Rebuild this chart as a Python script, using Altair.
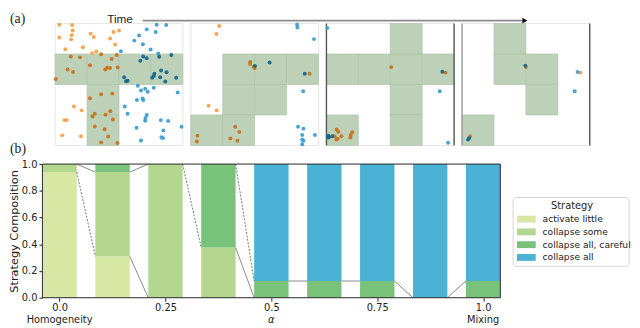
import altair as alt
import pandas as pd

# ---------------- (a) agents on a 4x4 resource grid, four time snapshots ----------------
# grid coordinates: x 0..4 (left->right), y 0..4 (top->bottom)
green_cells = [
    [(0, 1), (1, 1), (2, 1), (3, 1), (1, 2), (1, 3)],
    [(0, 3), (1, 1), (1, 2), (1, 3), (2, 1), (2, 2), (3, 1)],
    [(0, 1), (1, 1), (2, 1), (3, 1), (2, 0), (2, 2), (2, 3), (0, 3)],
    [(1, 0), (1, 1), (2, 1), (2, 2), (0, 3)],
]

orange_x = [
    [0.13, 0.53, 0.55, 0.52, 0.13, 0.50, 1.11, 1.21, 1.83, 2.00, 1.72, 1.88, 0.87, 0.32, 1.16, 1.29, 1.44, 1.93,
     0.49, 0.78, 0.39, 0.56, 0.02, 1.09, 1.77, 1.63, 1.57, 1.72, 1.96,
     1.09, 1.44, 1.79, 1.24, 1.17, 1.58, 1.73, 1.81, 1.24, 1.55, 1.66, 1.44, 1.95,
     0.59, 0.83, 0.29, 0.36, 0.22, 0.81],
    [0.89, 0.80, 0.56, 0.81, 1.86, 1.86, 1.97, 2.00, 3.72, 1.39, 1.52, 1.24, 1.46, 0.21, 0.19],
    [2.03, 3.73, 0.32, 0.37, 0.25, 0.47, 0.35, 0.31, 0.75, 0.76, 0.81],
    [2.00, 3.71, 0.25],
]
orange_y = [
    [0.04, 0.05, 0.23, 0.38, 0.46, 0.52, 0.33, 0.44, 0.28, 0.23, 0.49, 0.69, 0.78, 0.84, 0.97, 0.92, 1.01, 1.03,
     1.08, 1.11, 1.51, 1.59, 1.82, 1.37, 1.16, 1.45, 1.51, 1.46, 1.44,
     2.45, 2.32, 2.30, 2.96, 3.05, 2.99, 2.88, 3.15, 3.38, 3.47, 3.71, 3.90, 3.92,
     2.72, 2.85, 3.17, 3.17, 3.67, 3.70],
    [0.08, 0.34, 2.70, 2.85, 1.26, 1.33, 1.42, 1.46, 1.65, 3.39, 3.56, 3.77, 3.85, 3.68, 3.87],
    [1.43, 1.61, 3.48, 3.55, 3.70, 3.70, 3.78, 3.81, 3.74, 3.66, 3.57],
    [1.43, 1.61, 3.71],
]
blue_x = [
    [3.18, 3.48, 2.87, 3.15, 2.63, 2.48, 2.75, 2.99, 3.23, 2.06,
     2.67, 2.76, 2.87, 3.26, 3.64, 2.16, 2.22, 2.27, 3.11, 3.09, 3.04, 3.32, 3.49, 3.29, 3.45, 3.79,
     2.59, 2.69, 2.82, 2.90, 3.09, 3.84, 2.56, 2.74, 2.76, 2.18, 2.27, 2.87, 2.83, 2.82, 3.31, 3.54,
     2.55, 3.39, 3.38, 3.33, 3.96, 2.69],
    [3.33, 3.34, 3.86, 3.52, 3.36, 3.53, 3.49, 3.89, 3.49, 3.53, 3.49, 2.01, 2.47, 3.57],
    [0.03, 3.55, 3.81, 3.63, 0.06, 0.06, 0.18, 0.08],
    [1.98, 3.62, 3.53, 0.19, 0.22],
]
blue_y = [
    [0.04, 0.05, 0.19, 0.28, 0.39, 0.56, 0.68, 0.85, 0.98, 0.91,
     1.22, 1.08, 1.14, 1.09, 1.03, 1.76, 1.89, 1.88, 1.65, 1.72, 1.78, 1.54, 1.60, 1.76, 1.90, 1.78,
     2.04, 2.20, 2.14, 2.24, 2.11, 2.26, 2.51, 2.46, 2.51, 2.72, 2.96, 3.00, 3.10, 3.19, 3.17, 3.20,
     3.42, 3.51, 3.76, 3.73, 3.39, 3.84],
    [0.03, 0.13, 0.51, 2.22, 3.39, 3.45, 3.66, 3.66, 3.81, 3.85, 3.96, 1.39, 1.28, 1.65],
    [0.15, 2.22, 3.91, 1.58, 3.68, 3.74, 3.70, 3.72],
    [1.38, 1.59, 2.22, 3.81, 3.76],
]
wall_panel = [2, 2, 3, 3]
wall_side = [0, 4, 0, 4]
wall_color = ["#555555", "#555555", "#9a9a9a", "#555555"]
panel_labels = ["(a)", "(b)"]
time_label = ["Time"]

# ---------------- (b) strategy composition ----------------
alpha_values = [0.0, 0.125, 0.25, 0.375, 0.5, 0.625, 0.75, 0.875, 1.0]
strategies = ["activate little", "collapse some", "collapse all, careful", "collapse all"]
activate_little = [0.94, 0.31, 0.0, 0.0, 0.0, 0.0, 0.0, 0.0, 0.0]
collapse_some = [0.06, 0.63, 1.0, 0.375, 0.0, 0.0, 0.0, 0.0, 0.0]
collapse_all_careful = [0.0, 0.06, 0.0, 0.625, 0.125, 0.125, 0.125, 0.0, 0.125]
collapse_all = [0.0, 0.0, 0.0, 0.0, 0.875, 0.875, 0.875, 1.0, 0.875]
strategy_colors = ["#d9e7a4", "#b3d78f", "#79c27a", "#4ab2d5"]
legend_title = ["Strategy"]

x_tick_values = [0.0, 0.25, 0.5, 0.75, 1.0]
x_tick_labels = ["0.0", "0.25", "0.5", "0.75", "1.0"]
y_tick_values = [0.0, 0.2, 0.4, 0.6, 0.8, 1.0]
y_tick_labels = ["0.0", "0.2", "0.4", "0.6", "0.8", "1.0"]
x_sublabel_pos = [0.0, 0.5, 1.0]
x_sublabels = ["Homogeneity", "α", "Mixing"]
x_sublabel_italic = [False, True, False]

# ---------------- build tables ----------------
STEP = 4.25          # panel spacing in grid units
TOP_W, TOP_H = 557, 124
BAR_W, BAR_H = 466, 136
GAP = 19
HW = 0.0406          # half bar width in alpha units

LIGHT = {"o": "#f8a04c", "b": "#3c9fd3"}
DARK = {"o": "#c9731e", "b": "#17688c"}

pt_rows, cell_rows, frame_rows = [], [], []
for k in range(4):
    cells = set(green_cells[k])
    for (c, r) in green_cells[k]:
        cell_rows.append(dict(x=c + k * STEP, x2=c + 1 + k * STEP, y=r, y2=r + 1))
    frame_rows.append(dict(x=k * STEP, x2=4 + k * STEP, y=0, y2=4))
    for kind, xs_, ys_ in (("o", orange_x[k], orange_y[k]), ("b", blue_x[k], blue_y[k])):
        for x, y in zip(xs_, ys_):
            on = (int(x), int(y)) in cells
            pt_rows.append(dict(x=x + k * STEP, y=y, c=(DARK if on else LIGHT)[kind]))
pt_df = pd.DataFrame(pt_rows)
cell_df = pd.DataFrame(cell_rows)
frame_df = pd.DataFrame(frame_rows)
wall_df = pd.DataFrame(dict(x=[s + p * STEP for p, s in zip(wall_panel, wall_side)],
                            y0=[0] * 4, y1=[4] * 4, c=wall_color))

txs = alt.Scale(domain=[-0.4, 16.75], nice=False, zero=False)
tys = alt.Scale(domain=[0, 4], reverse=True, nice=False, zero=False)

frames = alt.Chart(frame_df).mark_rect(fill="white", stroke="#e6e6e6", strokeWidth=1).encode(
    x=alt.X("x:Q", scale=txs, axis=None), x2="x2:Q",
    y=alt.Y("y:Q", scale=tys, axis=None), y2="y2:Q")
cells_l = alt.Chart(cell_df).mark_rect(fill="#bdd1b9", stroke="#adc5a8", strokeWidth=0.7).encode(
    x=alt.X("x:Q", scale=txs, axis=None), x2="x2:Q",
    y=alt.Y("y:Q", scale=tys, axis=None), y2="y2:Q")
walls = alt.Chart(wall_df).mark_rule(strokeWidth=1.4).encode(
    x=alt.X("x:Q", scale=txs, axis=None),
    y=alt.Y("y0:Q", scale=tys, axis=None), y2="y1:Q",
    color=alt.Color("c:N", scale=None))
points = alt.Chart(pt_df).mark_circle(size=16, opacity=0.95).encode(
    x=alt.X("x:Q", scale=txs, axis=None),
    y=alt.Y("y:Q", scale=tys, axis=None),
    color=alt.Color("c:N", scale=None))

ann_df = pd.DataFrame({"t": [panel_labels[0]]})
a_label = alt.Chart(ann_df).mark_text(align="left", baseline="middle", font="Liberation Serif",
                                      fontSize=14, color="#222").encode(
    x=alt.value(-33), y=alt.value(-5), text="t:N")
time_df = pd.DataFrame({"t": time_label})
time_text = alt.Chart(time_df).mark_text(align="center", baseline="middle", font="Liberation Sans",
                                         fontSize=12, color="#222").encode(
    x=alt.value(79), y=alt.value(-5), text="t:N")
arrow_line = alt.Chart(time_df).mark_rule(color="#8c8c8c", strokeWidth=1.6).encode(
    x=alt.value(102), x2=alt.value(489), y=alt.value(-3))
arrow_head = alt.Chart(time_df).mark_point(shape="triangle-right", filled=True, size=35,
                                           color="#111", opacity=1).encode(
    x=alt.value(491), y=alt.value(-3))

top = alt.layer(frames, cells_l, walls, points, a_label, time_text, arrow_line, arrow_head).properties(
    width=TOP_W, height=TOP_H)

# ---- bars ----
series = [activate_little, collapse_some, collapse_all_careful, collapse_all]
bar_rows, bounds = [], []
for i, a in enumerate(alpha_values):
    cum = 0.0
    b = [0.0]
    for s, vals in zip(strategies, series):
        bar_rows.append(dict(x0=a - HW, x1=a + HW, y0=round(cum, 6), y1=round(cum + vals[i], 6), strategy=s))
        cum += vals[i]
        b.append(round(cum, 6))
    bounds.append(b)
bar_df = pd.DataFrame(bar_rows)

conn_rows = []
for i in range(len(alpha_values) - 1):
    for k in (1, 2, 3):
        v0, v1 = bounds[i][k], bounds[i + 1][k]
        if (v0 >= 0.999 and v1 >= 0.999) or (v0 <= 0.001 and v1 <= 0.001):
            continue
        conn_rows.append(dict(xa=alpha_values[i] + HW, xb=alpha_values[i + 1] - HW,
                              ya=v0, yb=v1, dashed=(v0 - v1) > 0.5))
conn_df = pd.DataFrame(conn_rows)

xs = alt.Scale(domain=[-HW, 1 + HW], nice=False, zero=False)
ys = alt.Scale(domain=[0, 1], nice=False, zero=False)
color_scale = alt.Scale(domain=strategies, range=strategy_colors)


def label_expr(values, labels):
    return "[" + ",".join("'%s'" % s for s in labels) + "][indexof([" + \
        ",".join(str(v) for v in values) + "], datum.value)]"


x_axis = alt.Axis(values=x_tick_values, labelExpr=label_expr(x_tick_values, x_tick_labels),
                  title=None, grid=False, domain=False, tickSize=3.5, tickColor="#222", labelColor="#222",
                  labelFontSize=10, labelPadding=2, labelFlush=False, labelOverlap=False,
                  labelFont="DejaVu Sans")
y_axis = alt.Axis(values=y_tick_values, labelExpr=label_expr(y_tick_values, y_tick_labels),
                  title="Strategy Composition", titleFont="DejaVu Sans", titleFontSize=11.5,
                  titleFontWeight="normal", titleColor="#222", titlePadding=2, grid=False, domain=False,
                  tickSize=3.5, tickColor="#222", labelColor="#222", labelFontSize=10,
                  labelPadding=2, labelFlush=False, labelOverlap=False, labelBound=False,
                  labelFont="DejaVu Sans")

bars = alt.Chart(bar_df).mark_rect().encode(
    x=alt.X("x0:Q", scale=xs, axis=x_axis),
    x2="x1:Q",
    y=alt.Y("y0:Q", scale=ys, axis=y_axis),
    y2="y1:Q",
    color=alt.Color("strategy:N", scale=color_scale, legend=None),
)

solid = alt.Chart(conn_df).transform_filter("!datum.dashed").mark_rule(color="#7a7a7a", strokeWidth=0.9).encode(
    x=alt.X("xa:Q", scale=xs, axis=x_axis), x2="xb:Q", y=alt.Y("ya:Q", scale=ys, axis=y_axis), y2="yb:Q")
dashed = alt.Chart(conn_df).transform_filter("datum.dashed").mark_rule(
    color="#666666", strokeWidth=0.9, strokeDash=[2, 1.5]).encode(
    x=alt.X("xa:Q", scale=xs, axis=x_axis), x2="xb:Q", y=alt.Y("ya:Q", scale=ys, axis=y_axis), y2="yb:Q")

frame = alt.Chart(pd.DataFrame({"f": [0]})).mark_rect(fill="white", fillOpacity=0, stroke="#262626",
                                                      strokeWidth=1).encode(
    x=alt.value(0), x2=alt.value(BAR_W), y=alt.value(0), y2=alt.value(BAR_H))

sub_df = pd.DataFrame({"x": x_sublabel_pos, "label": x_sublabels, "it": x_sublabel_italic})
sub_n = alt.Chart(sub_df).transform_filter("!datum.it").mark_text(
    baseline="middle", fontSize=10, color="#222", font="DejaVu Sans").encode(
    x=alt.X("x:Q", scale=xs, axis=x_axis), y=alt.value(BAR_H + 22.5), text="label:N")
sub_i = alt.Chart(sub_df).transform_filter("datum.it").mark_text(
    baseline="middle", fontSize=10, color="#222", font="DejaVu Sans", fontStyle="italic").encode(
    x=alt.X("x:Q", scale=xs, axis=x_axis), y=alt.value(BAR_H + 23), text="label:N")

b_df = pd.DataFrame({"t": [panel_labels[1]]})
b_label = alt.Chart(b_df).mark_text(align="left", baseline="middle", font="Liberation Serif",
                                    fontSize=14, color="#222").encode(
    x=alt.value(-33), y=alt.value(-15), text="t:N")

# ---- legend (drawn as marks, pixel positions inside the bar panel) ----
LEG_X, LEG_Y, LEG_W, LEG_H = 479, 34, 118, 70
ROW0, ROW_H = 22, 13
leg_df = pd.DataFrame({"strategy": strategies, "i": list(range(len(strategies)))})
leg_box = alt.Chart(pd.DataFrame({"t": legend_title})).mark_rect(
    fill="white", fillOpacity=0.9, stroke="#d4d4d4", strokeWidth=1, cornerRadius=3).encode(
    x=alt.value(LEG_X), x2=alt.value(LEG_X + LEG_W), y=alt.value(LEG_Y), y2=alt.value(LEG_Y + LEG_H))
leg_title = alt.Chart(pd.DataFrame({"t": legend_title})).mark_text(
    fontSize=10, color="#222", font="DejaVu Sans", baseline="middle", align="center").encode(
    x=alt.value(LEG_X + 60), y=alt.value(LEG_Y + 8.5), text="t:N")
leg_base = alt.Chart(leg_df).transform_calculate(
    py=f"{LEG_Y + ROW0} + datum.i * {ROW_H}",
    py0=f"{LEG_Y + ROW0 - 3.5} + datum.i * {ROW_H}",
    py1=f"{LEG_Y + ROW0 + 3.5} + datum.i * {ROW_H}")
leg_sym = leg_base.mark_rect().encode(
    x=alt.value(LEG_X + 4), x2=alt.value(LEG_X + 23),
    y=alt.Y("py0:Q", scale=None), y2="py1:Q",
    color=alt.Color("strategy:N", scale=color_scale, legend=None))
leg_txt = leg_base.mark_text(fontSize=9.3, color="#222", font="DejaVu Sans", align="left",
                             baseline="middle").encode(
    x=alt.value(LEG_X + 30), y=alt.Y("py:Q", scale=None), text="strategy:N")

bottom = alt.layer(bars, solid, dashed, frame, sub_n, sub_i, b_label,
                   leg_box, leg_title, leg_sym, leg_txt).properties(width=BAR_W, height=BAR_H)

chart = alt.vconcat(top, bottom, spacing=GAP, bounds="flush").properties(padding=0).configure(
    font="DejaVu Sans").configure_view(stroke="transparent")

chart.save("out.html", embed_options={"renderer": "svg", "actions": False})
